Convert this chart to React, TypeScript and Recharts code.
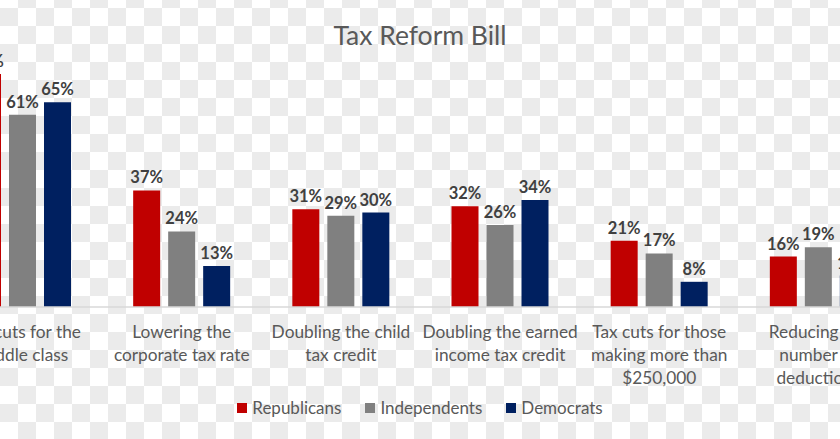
import React from "react";
import { Bar, BarChart, LabelList, XAxis, YAxis } from "recharts";

const categories = [
  "Tax cuts for the\nmiddle class",
  "Lowering the\ncorporate tax rate",
  "Doubling the child\ntax credit",
  "Doubling the earned\nincome tax credit",
  "Tax cuts for those\nmaking more than\n$250,000",
  "Reducing the\nnumber of\ndeductions",
];
const republicans = [74, 37, 31, 32, 21, 16];
const independents = [61, 24, 29, 26, 17, 19];
const democrats = [65, 13, 30, 34, 8, 10];

const series = [
  { key: "rep", name: "Republicans", color: "#C00000", values: republicans },
  { key: "ind", name: "Independents", color: "#808080", values: independents },
  { key: "dem", name: "Democrats", color: "#002060", values: democrats },
];

const data = categories.map((name, i) => ({
  name,
  rep: republicans[i],
  ind: independents[i],
  dem: democrats[i],
}));

const FONT = "Lato, 'Open Sans', sans-serif";

const CategoryTick = ({ x, y, payload }: any) => {
  const lines = String(payload.value).split("\n");
  return (
    <text
      x={x}
      y={y}
      textAnchor="middle"
      fill="#595959"
      fontSize={17.3}
      fontFamily={FONT}
    >
      {lines.map((line, i) => (
        <tspan key={i} x={x} dy={i === 0 ? 23 : 23}>
          {line}
        </tspan>
      ))}
    </text>
  );
};

const App = () => {
  return (
    <div
      style={{
        position: "absolute",
        left: 0,
        top: 0,
        width: 840,
        height: 439,
        overflow: "hidden",
        backgroundColor: "#ffffff",
        backgroundImage:
          "repeating-conic-gradient(#ebebeb 0% 25%, #ffffff 0% 50%)",
        backgroundSize: "36px 36px",
        backgroundPosition: "18px 8px",
        fontFamily: FONT,
      }}
    >
      <div
        style={{
          position: "absolute",
          top: 18,
          left: 0,
          width: 840,
          textAlign: "center",
          fontSize: 26.5,
          lineHeight: "34px",
          color: "#595959",
        }}
      >
        Tax Reform Bill
      </div>
      <div style={{ position: "absolute", left: -57.5, top: 0 }}>
        <BarChart
          width={955}
          height={439}
          data={data}
          margin={{ top: 55, right: 0, bottom: 0, left: 0 }}
          barSize={27}
          barGap={8}
        >
          <XAxis
            dataKey="name"
            height={132}
            interval={0}
            tickLine={false}
            axisLine={{ stroke: "#d9d9d9", strokeWidth: 1.5 }}
            tick={<CategoryTick />}
          />
          <YAxis hide domain={[0, 80]} />
          {series.map((s) => (
            <Bar
              key={s.key}
              dataKey={s.key}
              name={s.name}
              fill={s.color}
              isAnimationActive={false}
            >
              <LabelList
                dataKey={s.key}
                position="top"
                offset={7}
                formatter={(v: any) => `${v}%`}
                fill="#404040"
                fontSize={16.5}
                fontWeight="bold"
                fontFamily={FONT}
              />
            </Bar>
          ))}
        </BarChart>
      </div>
      <div
        style={{
          position: "absolute",
          top: 397,
          left: 0,
          width: 840,
          display: "flex",
          justifyContent: "center",
          gap: 24,
          fontSize: 17,
          lineHeight: "22px",
          color: "#595959",
        }}
      >
        {series.map((s) => (
          <div key={s.key} style={{ display: "flex", alignItems: "center" }}>
            <span
              style={{
                display: "inline-block",
                width: 10,
                height: 10,
                background: s.color,
                marginRight: 5,
              }}
            />
            {s.name}
          </div>
        ))}
      </div>
    </div>
  );
};

export default App;
